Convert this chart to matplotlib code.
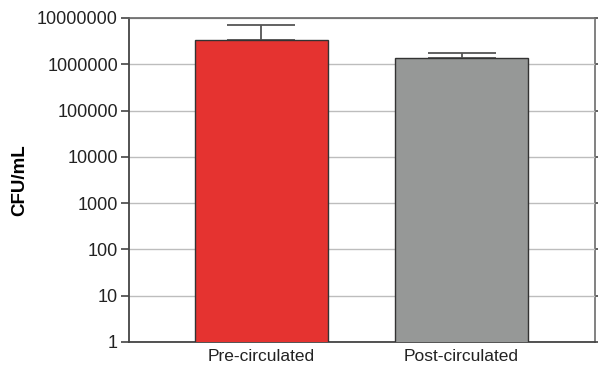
import matplotlib
matplotlib.use('Agg')
import matplotlib.pyplot as plt
import numpy as np

groups = ['Pre-circulated', 'Post-circulated']
means = [3.35e6, 1.39e6]
upper_err = [3.75e6, 0.36e6]
colors = ['#e53330', '#969897']
yticks = [1, 10, 100, 1000, 10000, 100000, 1000000, 10000000]

plt.rcParams['font.family'] = ['Liberation Sans', 'DejaVu Sans']

fig = plt.figure(figsize=(5.98, 3.70), dpi=100)
ax = fig.add_axes([0.2157, 0.0757, 0.7793, 0.8757])

x = np.arange(len(groups))
ax.bar(x, means, width=0.665, color=colors, edgecolor='#333333', linewidth=1.0, zorder=3)
ax.errorbar(x, means, yerr=[np.zeros(len(means)), upper_err], fmt='none',
            ecolor='#555555', elinewidth=1.3, capsize=24.5, capthick=1.3, zorder=2)

ax.set_yscale('log')
ax.set_ylim(1, 1e7)
ax.set_xlim(-0.6625, 1.6675)
ax.set_yticks(yticks)
ax.set_yticklabels([str(t) for t in yticks])
ax.yaxis.set_minor_locator(matplotlib.ticker.NullLocator())
ax.set_xticks(x)
ax.set_xticklabels(groups)
ax.tick_params(axis='x', length=0, labelsize=12.5, pad=5, colors='#222222')
ax.tick_params(axis='y', direction='out', length=6, width=1.2, color='#444444',
               labelsize=13, pad=2, labelcolor='#222222')
ax.grid(axis='y', color='#bdbdbd', linewidth=1.0, zorder=0)
ax.set_axisbelow(True)

# short ticks on the right edge
ax_r = ax.secondary_yaxis('right')
ax_r.set_yticks(yticks)
ax_r.yaxis.set_minor_locator(matplotlib.ticker.NullLocator())
ax_r.tick_params(length=3, width=1.2, color='#444444', labelright=False)
ax_r.spines['right'].set_color('#777777')
ax_r.spines['right'].set_linewidth(1.3)

for side in ['left', 'bottom']:
    ax.spines[side].set_color('#444444')
    ax.spines[side].set_linewidth(1.3)
ax.spines['right'].set_visible(False)
ax.spines['top'].set_color('#666666')
ax.spines['top'].set_linewidth(1.2)

ax.set_ylabel('CFU/mL', fontsize=13.5, fontweight='bold')
ax.yaxis.set_label_coords(-0.216, 0.5)

fig.savefig('out.png', dpi=100)
